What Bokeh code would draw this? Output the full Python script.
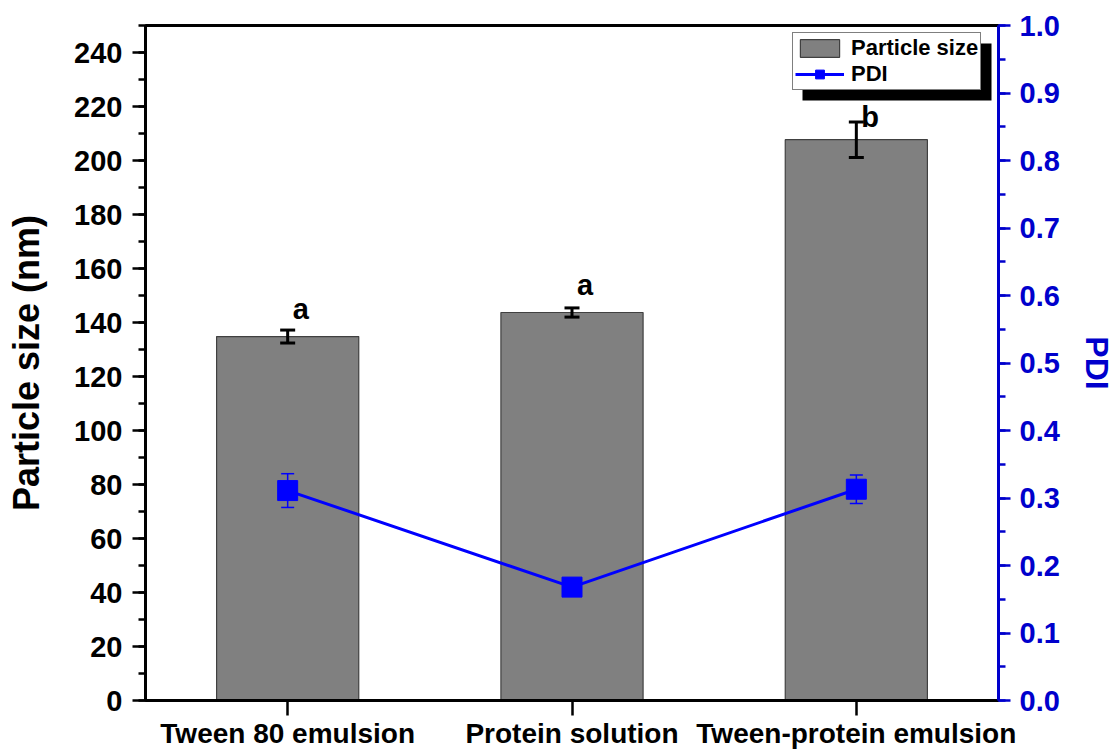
from bokeh.plotting import figure
from bokeh.models import (FactorRange, Range1d, LinearAxis, SingleIntervalTicker, Whisker,
                          TeeHead, ColumnDataSource, Legend, LegendItem, BoxAnnotation,
                          NumeralTickFormatter)
from bokeh.core.properties import value
from bokeh.embed import file_html
from bokeh.resources import INLINE

# ---- data ----
categories = ["Tween 80 emulsion", "Protein solution", "Tween-protein emulsion"]
particle_size = [134.8, 143.7, 207.7]
particle_size_err = [2.4, 1.7, 6.6]
pdi = [0.311, 0.168, 0.313]
pdi_err = [0.025, 0.005, 0.021]
letters = ["a", "a", "b"]
letter_dy = [-5, -7, 11]   # screen-pixel nudges of the significance letters

FONT = "Liberation Sans"
BLUE = "#0000ff"
AXBLUE = "#0000cc"

src = ColumnDataSource(dict(
    x=categories,
    size=particle_size,
    size_lo=[v - e for v, e in zip(particle_size, particle_size_err)],
    size_hi=[v + e for v, e in zip(particle_size, particle_size_err)],
    pdi=pdi,
    pdi_lo=[v - e for v, e in zip(pdi, pdi_err)],
    pdi_hi=[v + e for v, e in zip(pdi, pdi_err)],
    letters=letters,
    letter_dy=letter_dy,
))

p = figure(width=1117, height=751, x_range=FactorRange(*categories), y_range=Range1d(0, 250),
           output_backend="svg", toolbar_location=None,
           min_border_left=145, min_border_right=119, min_border_top=25, min_border_bottom=51)
p.extra_y_ranges = {"pdi": Range1d(0, 1.0)}
p.xgrid.visible = False
p.ygrid.visible = False
p.background_fill_color = "white"
p.border_fill_color = "white"
p.outline_line_color = "black"
p.outline_line_width = 3
p.outline_line_alpha = 1

# bars
bars = p.vbar(x="x", top="size", width=0.5, source=src, fill_color="#808080",
              line_color="#404040", line_width=1.2)

# bar error bars
p.add_layout(Whisker(base="x", upper="size_hi", lower="size_lo", source=src, level="annotation",
                     line_color="black", line_width=3,
                     upper_head=TeeHead(size=15, line_width=3, line_color="black"),
                     lower_head=TeeHead(size=15, line_width=3, line_color="black")))

# letters
p.text(x="x", y="size_hi", text="letters", source=src, x_offset=5, y_offset="letter_dy",
       text_align="left", text_baseline="bottom", text_font=value(FONT),
       text_font_style="bold", text_font_size="29px", text_color="black")

# PDI
pdi_line = p.line(x="x", y="pdi", source=src, y_range_name="pdi", line_color=BLUE, line_width=3)
p.add_layout(Whisker(base="x", upper="pdi_hi", lower="pdi_lo", source=src, y_range_name="pdi",
                     level="annotation", line_color=BLUE, line_width=1.5,
                     upper_head=TeeHead(size=13, line_width=1.5, line_color=BLUE),
                     lower_head=TeeHead(size=13, line_width=1.5, line_color=BLUE)))
pdi_pts = p.scatter(x="x", y="pdi", source=src, y_range_name="pdi", marker="square", size=20,
                    fill_color=BLUE, line_color=BLUE, level="overlay")

# axes styling
def style_axis(ax, color, label_size, tick_size):
    ax.axis_line_color = color
    ax.axis_line_width = 3
    ax.major_tick_line_color = color
    ax.major_tick_line_width = 2.5
    ax.minor_tick_line_color = color
    ax.minor_tick_line_width = 2.5
    ax.major_tick_in = 0
    ax.minor_tick_in = 0
    ax.major_label_text_font = FONT
    ax.major_label_text_font_style = "bold"
    ax.major_label_text_font_size = tick_size
    ax.major_label_text_color = color
    ax.axis_label_text_font = FONT
    ax.axis_label_text_font_style = "bold"
    ax.axis_label_text_font_size = label_size
    ax.axis_label_text_color = color

xa = p.xaxis[0]
style_axis(xa, "black", "28px", "28px")
xa.major_tick_out = 15
xa.major_label_standoff = 2

ya = p.yaxis[0]
ya.ticker = SingleIntervalTicker(interval=20, num_minor_ticks=2)
ya.axis_label = "Particle size (nm)"
style_axis(ya, "black", "36px", "29px")
ya.major_tick_out = 13
ya.minor_tick_out = 7
ya.major_label_standoff = 10
ya.axis_label_standoff = 24

ra = LinearAxis(y_range_name="pdi", ticker=SingleIntervalTicker(interval=0.1, num_minor_ticks=2),
                formatter=NumeralTickFormatter(format="0.0"), axis_label="PDI")
style_axis(ra, AXBLUE, "32px", "29px")
ra.major_tick_out = 12
ra.minor_tick_out = 7
ra.major_label_standoff = 9
ra.axis_label_standoff = 16
p.add_layout(ra, "right")

# legend shadow + legend
p.add_layout(BoxAnnotation(left=657, right=846, bottom=600, top=657,
                           left_units="screen", right_units="screen",
                           bottom_units="screen", top_units="screen",
                           fill_color="black", fill_alpha=1, line_alpha=0, level="underlay"))
legend = Legend(items=[LegendItem(label="Particle size", renderers=[bars]),
                       LegendItem(label="PDI", renderers=[pdi_line, pdi_pts])],
                location=(647, 610), margin=0, padding=2, spacing=0,
                glyph_width=49, glyph_height=22, label_standoff=7, label_height=22,
                label_text_font=FONT, label_text_font_style="bold",
                label_text_font_size="22px", label_text_color="black",
                label_text_line_height=1.1,
                border_line_color="black", border_line_width=1.5,
                background_fill_color="white", background_fill_alpha=1)
p.add_layout(legend)

open("out.html", "w").write(file_html(p, INLINE))
